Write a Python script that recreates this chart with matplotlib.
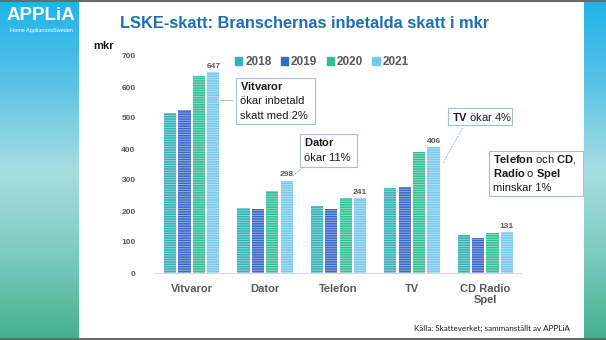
import numpy as np
import matplotlib
matplotlib.use("Agg")
import matplotlib.pyplot as plt
from matplotlib.patches import Patch, Rectangle
from matplotlib.colors import LinearSegmentedColormap

# ============================================
# Data
# ============================================
categories = ["Vitvaror", "Dator", "Telefon", "TV", "CD Radio\nSpel"]
years = ["2018", "2019", "2020", "2021"]
v2018 = [517, 209, 217, 274, 123]
v2019 = [527, 207, 206, 279, 112]
v2020 = [635, 266, 243, 391, 130]
v2021 = [647, 298, 241, 406, 131]
series = [v2018, v2019, v2020, v2021]
colors = ["#35B2B8", "#3B68C6", "#33BF96", "#78C8EC"]

W, H = 606, 340
plt.rcParams["font.family"] = ["Liberation Sans", "DejaVu Sans"]
plt.rcParams["hatch.linewidth"] = 0.6
plt.rcParams["mathtext.fontset"] = "custom"
plt.rcParams["mathtext.rm"] = "Liberation Sans"
plt.rcParams["mathtext.bf"] = "Liberation Sans:bold"

fig = plt.figure(figsize=(W / 100, H / 100), dpi=100)


def fx(x):
    return x / W


def fy(y):
    return 1 - y / H


# ============================================
# Side gradients
# ============================================
side_cmap = LinearSegmentedColormap.from_list(
    "side", ["#1FB3EA", "#5CC3E6", "#A8DEE2", "#7CCBC0", "#44B08C"]
)
grad = np.linspace(0, 1, 256).reshape(-1, 1)
for x0, x1 in [(0, 79), (584, 606)]:
    sax = fig.add_axes([fx(x0), 0, fx(x1 - x0), 1])
    sax.imshow(grad, aspect="auto", cmap=side_cmap)
    sax.axis("off")

fig.add_artist(plt.Line2D([0, 1], [fy(0.8), fy(0.8)], color="#6b6b6b", lw=1.5))
fig.add_artist(plt.Line2D([0, 1], [fy(339), fy(339)], color="#6b6b6b", lw=1.5))

# logo
fig.text(fx(41), fy(16), "APPLiA", color="white", fontsize=13.5, fontweight="bold",
         ha="center", va="center")
fig.text(fx(41), fy(30.5), "Home AppliancesSweden", color="white", fontsize=4,
         ha="center", va="center")

# ============================================
# Bars
# ============================================
ax = fig.add_axes([fx(155), fy(273), fx(522 - 155), (273 - 56) / H])
x = np.arange(len(categories))
step = 0.196
width = 0.165
for i, (vals, c) in enumerate(zip(series, colors)):
    ax.bar(x + (i - 1.5) * step, vals, width, color=c,
           edgecolor=(1, 1, 1, 0.5), linewidth=0, hatch="-------",
           label=years[i])

for xi, v in zip(x, v2021):
    ax.text(xi + 1.5 * step, v + 8, str(v), ha="center", va="bottom",
            fontsize=6, fontweight="bold", color="#595959")

ax.set_xlim(-0.5, len(categories) - 0.5)
ax.set_ylim(0, 700)
ax.set_yticks(range(0, 701, 100))
ax.set_xticks(x)
ax.set_xticklabels(categories, fontsize=8, fontweight="bold", color="#595959",
                   linespacing=1.1)
ax.tick_params(axis="y", labelsize=6, colors="#595959", length=0, pad=14)
ax.tick_params(axis="x", length=0, pad=8)
for lab in ax.get_yticklabels():
    lab.set_fontweight("bold")
for s in ["top", "right", "left"]:
    ax.spines[s].set_visible(False)
ax.spines["bottom"].set_color("#D9D9D9")

handles = [Patch(color=c, label=y) for c, y in zip(colors, years)]
leg = ax.legend(handles=handles, ncol=4, loc="center",
                bbox_to_anchor=((322 - 155) / 367, (273 - 62) / 217),
                frameon=False, handlelength=0.6, handleheight=0.6,
                handletextpad=0.25, columnspacing=0.8,
                prop={"size": 8.5, "weight": "bold"})
for t in leg.get_texts():
    t.set_color("#595959")

# ============================================
# Texts
# ============================================
fig.text(fx(305), fy(24), "LSKE-skatt: Branschernas inbetalda skatt i mkr",
         ha="center", va="center", fontsize=11.8, fontweight="bold", color="#1D6FB8")
fig.text(fx(93), fy(46), "mkr", ha="left", va="center", fontsize=8,
         fontweight="bold", color="#1a1a1a")
fig.text(fx(570), fy(328), "Källa: Skatteverket; sammanställt av APPLiA",
         ha="right", va="center", fontsize=5.8, color="#1a1a1a",
         family=["Lato", "DejaVu Sans"])


def box(x0, y0, x1, y1):
    fig.add_artist(Rectangle((fx(x0), fy(y1)), fx(x1 - x0), (y1 - y0) / H,
                             facecolor="white", edgecolor="#A9BDE3", lw=0.8))


def note(x0, y0, txt, size=8):
    fig.text(fx(x0), fy(y0), txt, ha="left", va="center", fontsize=size,
             color="#1a1a1a")


# Vitvaror
box(236, 78, 315, 124)
note(240, 86, r"$\bf{Vitvaror}$")
note(240, 101, "ökar inbetald")
note(240, 116, "skatt med 2%")
fig.add_artist(plt.Line2D([fx(220), fx(232)], [fy(100), fy(100)],
                          color="#A9C3D3", lw=0.8))

# Dator
box(300, 134, 357, 167)
note(304, 142, r"$\bf{Dator}$")
note(304, 158, "ökar 11%")
fig.add_artist(plt.Line2D([fx(293), fx(302)], [fy(176), fy(168)],
                          color="#9DBFE0", lw=0.7, ls=(0, (2, 1))))

# TV
box(448, 108, 512, 125)
note(452, 117, r"$\bf{TV}$ ökar 4%")
fig.add_artist(plt.Line2D([fx(443), fx(463)], [fy(163), fy(127)],
                          color="#9DBFE0", lw=0.7, ls=(0, (2, 1))))

# Telefon / CD
box(489, 151, 583, 196)
note(493, 159, r"$\bf{Telefon}$ och $\bf{CD}$,")
note(493, 174, r"$\bf{Radio}$ o $\bf{Spel}$")
note(493, 188, "minskar 1%")

fig.savefig("out.png", dpi=100)
